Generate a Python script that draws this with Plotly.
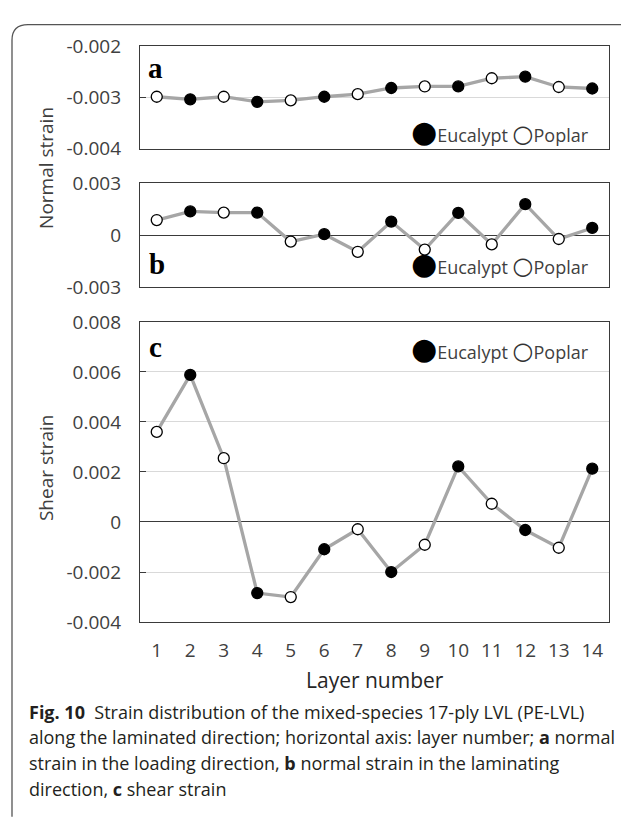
import plotly.graph_objects as go

# ---------------- data ----------------
layers = [1, 2, 3, 4, 5, 6, 7, 8, 9, 10, 11, 12, 13, 14]
species = ["Poplar", "Eucalypt", "Poplar", "Eucalypt", "Poplar", "Eucalypt", "Poplar",
           "Eucalypt", "Poplar", "Eucalypt", "Poplar", "Eucalypt", "Poplar", "Eucalypt"]

normal_loading = [-0.00299, -0.00304, -0.00299, -0.00309, -0.00306, -0.00299, -0.00294,
                  -0.00282, -0.00279, -0.00279, -0.00263, -0.00260, -0.00280, -0.00283]
normal_laminating = [0.00088, 0.00138, 0.00131, 0.00131, -0.00037, 0.00006, -0.00096,
                     0.00079, -0.00083, 0.00129, -0.00053, 0.00180, -0.00022, 0.00042]
shear = [0.00360, 0.00588, 0.00255, -0.00284, -0.00300, -0.00109, -0.00029,
         -0.00200, -0.00091, 0.00222, 0.00073, -0.00032, -0.00103, 0.00213]

ticks_a = [-0.002, -0.003, -0.004]
ticktext_a = ["-0.002", "-0.003", "-0.004"]
ticks_b = [0.003, 0, -0.003]
ticktext_b = ["0.003", "0", "-0.003"]
ticks_c = [0.008, 0.006, 0.004, 0.002, 0, -0.002, -0.004]
ticktext_c = ["0.008", "0.006", "0.004", "0.002", "0", "-0.002", "-0.004"]
x_ticktext = [str(v) for v in layers]

panel_letters = ["a", "b", "c"]
y_title_normal = "Normal strain"
y_title_shear = "Shear strain"
x_title = "Layer number"
legend_names = ["Eucalypt", "Poplar"]
caption_lines = [
    "<b>Fig. 10</b>  Strain distribution of the mixed-species 17-ply LVL (PE-LVL)",
    "along the laminated direction; horizontal axis: layer number; <b>a</b> normal",
    "strain in the loading direction, <b>b</b> normal strain in the laminating",
    "direction, <b>c</b> shear strain",
]

# ---------------- layout helpers ----------------
W, H = 621, 820


def px(x):
    return x / W


def py(y):
    return 1 - y / H


FONT = "Open Sans"
TXT = "#404040"
AX = "#3a3a3a"
fill = {"Eucalypt": "black", "Poplar": "white"}

fig = go.Figure()
series = [normal_loading, normal_laminating, shear]
for i, vals in enumerate(series):
    sfx = "" if i == 0 else str(i + 1)
    fig.add_trace(go.Scatter(
        x=layers, y=vals, mode="lines+markers",
        line=dict(color="#a6a6a6", width=3.3),
        marker=dict(size=11, color=[fill[s] for s in species],
                    line=dict(color="black", width=1.3)),
        xaxis="x" + sfx, yaxis="y" + sfx, showlegend=False, cliponaxis=False,
    ))

x0, x1 = px(140), px(609)
doms = [(py(140), py(34)), (py(283), py(176)), (py(629), py(319))]

xcommon = dict(range=[0.5, 14.5], tickvals=layers, ticktext=x_ticktext,
               showline=True, mirror=True, linecolor=AX, linewidth=1.3,
               showgrid=False, zeroline=False, ticks="", domain=[x0, x1])
ycommon = dict(showline=True, mirror=True, linecolor=AX, linewidth=1.3,
               ticks="inside", ticklen=6, tickcolor=AX, tickwidth=1.3,
               gridcolor="#d9d9d9", gridwidth=1,
               tickfont=dict(family=FONT, size=19, color=TXT),
               ticklabelstandoff=14)

fig.update_layout(
    width=W, height=H, margin=dict(l=0, r=0, t=0, b=0),
    paper_bgcolor="white", plot_bgcolor="white", showlegend=False,
    xaxis=dict(**xcommon, anchor="y", showticklabels=False),
    xaxis2=dict(**xcommon, anchor="y2", showticklabels=False),
    xaxis3=dict(**xcommon, anchor="y3", showticklabels=True,
                tickfont=dict(family=FONT, size=19, color=TXT),
                ticklabelstandoff=11),
    yaxis=dict(**ycommon, anchor="x", domain=list(doms[0]), range=[-0.004, -0.002],
               tickvals=ticks_a, ticktext=ticktext_a, showgrid=True, zeroline=False),
    yaxis2=dict(**ycommon, anchor="x2", domain=list(doms[1]), range=[-0.003, 0.003],
                tickvals=ticks_b, ticktext=ticktext_b, showgrid=False,
                zeroline=True, zerolinecolor=AX, zerolinewidth=1.3),
    yaxis3=dict(**ycommon, anchor="x3", domain=list(doms[2]), range=[-0.004, 0.008],
                tickvals=ticks_c, ticktext=ticktext_c, showgrid=True,
                zeroline=True, zerolinecolor=AX, zerolinewidth=1.3),
)

ann = []
# panel letters
for letter, (lx, ly) in zip(panel_letters, [(155, 57), (157, 259), (155, 345)]):
    ann.append(dict(text=f"<b>{letter}</b>", x=px(lx), y=py(ly), xref="paper", yref="paper",
                    showarrow=False, xanchor="center", yanchor="middle",
                    font=dict(family="Liberation Serif", size=29, color="black")))
# legends
leg_text = (f'<span style="font-family:DejaVu Sans;font-size:30px;color:black">●</span>'
            f'{legend_names[0]} '
            f'<span style="font-family:DejaVu Sans;font-size:24px;color:#333">○</span>'
            f'{legend_names[1]}')
for ly in [122, 259, 347]:
    ann.append(dict(text=leg_text, x=px(591), y=py(ly), xref="paper", yref="paper",
                    showarrow=False, xanchor="right", yanchor="middle",
                    font=dict(family=FONT, size=18, color=TXT)))
# axis titles
ann.append(dict(text=y_title_normal, x=px(46), y=py(160), xref="paper", yref="paper",
                showarrow=False, textangle=-90, xanchor="center", yanchor="middle",
                font=dict(family=FONT, size=19, color=TXT)))
ann.append(dict(text=y_title_shear, x=px(46), y=py(470), xref="paper", yref="paper",
                showarrow=False, textangle=-90, xanchor="center", yanchor="middle",
                font=dict(family=FONT, size=19, color=TXT)))
ann.append(dict(text=x_title, x=px(375), y=py(689), xref="paper", yref="paper",
                showarrow=False, xanchor="center", yanchor="middle",
                font=dict(family=FONT, size=21, color="#262626")))
# caption
for line, ly in zip(caption_lines, [722, 748, 775, 801]):
    ann.append(dict(text=line, x=px(27), y=py(ly), xref="paper", yref="paper",
                    showarrow=False, xanchor="left", yanchor="middle", align="left",
                    font=dict(family=FONT, size=18, color="#231f20")))
fig.update_layout(annotations=ann)

# outer frame (rounded corner at top-left, continues off the right and bottom)
fig.add_shape(type="path", xref="paper", yref="paper",
              path=(f"M {px(12)},{py(830)} L {px(12)},{py(28)} "
                    f"Q {px(12)},{py(12)} {px(28)},{py(12)} L {px(640)},{py(12)}"),
              line=dict(color="#555555", width=1.3))

fig.write_html(
    "out.html",
    config={"displayModeBar": False},
    post_script="document.body.style.margin='0';document.body.style.overflow='hidden';",
)
